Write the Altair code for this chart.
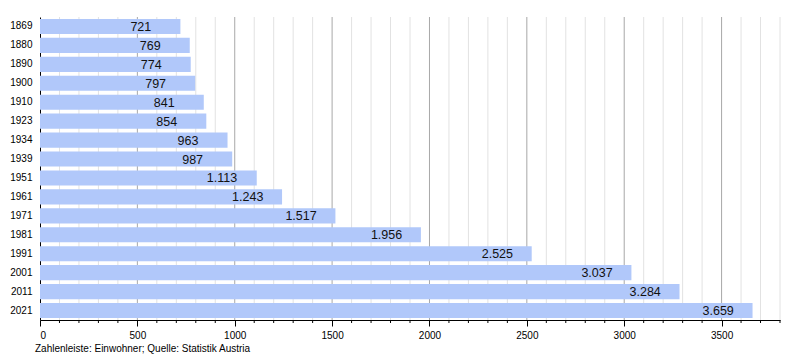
import altair as alt
import pandas as pd

years = ["1869", "1880", "1890", "1900", "1910", "1923", "1934", "1939",
         "1951", "1961", "1971", "1981", "1991", "2001", "2011", "2021"]
population = [721, 769, 774, 797, 841, 854, 963, 987,
              1113, 1243, 1517, 1956, 2525, 3037, 3284, 3659]
labels = ["721", "769", "774", "797", "841", "854", "963", "987",
          "1.113", "1.243", "1.517", "1.956", "2.525", "3.037", "3.284", "3.659"]
major_ticks = [0, 500, 1000, 1500, 2000, 2500, 3000, 3500]
minor_ticks = [v for v in range(100, 3801, 100) if v % 500 != 0]
footnote = "Zahlenleiste: Einwohner; Quelle: Statistik Austria"

df = pd.DataFrame({"year": years, "pop": population, "label": labels})
major_df = pd.DataFrame({"v": major_ticks})
minor_df = pd.DataFrame({"v": minor_ticks})

W, H = 740, 303
xscale = alt.Scale(domain=[0, 3800], nice=False, zero=True)
yscale = alt.Scale(domain=years, paddingInner=0.2, paddingOuter=0.1)

x_axis = alt.Axis(
    values=major_ticks,
    format="d",
    labelOverlap=False,
    tickSize=6,
    tickColor="black",
    domainColor="black",
    grid=False,
    labelFontSize=10,
    labelColor="black",
    labelFont="Liberation Sans",
    labelPadding=4,
    title=None,
)
y_axis = alt.Axis(
    title=None, ticks=False, domainColor="black", labelFontSize=10,
    labelColor="black", labelFont="Liberation Sans", labelPadding=8, grid=False,
)

minor_grid = alt.Chart(minor_df).mark_rule(color="#e2e2e2", strokeWidth=1).encode(
    x=alt.X("v:Q", scale=xscale), y=alt.value(0), y2=alt.value(H)
)
major_grid = alt.Chart(major_df[major_df.v > 0]).mark_rule(color="#a8a8a8", strokeWidth=1).encode(
    x=alt.X("v:Q", scale=xscale), y=alt.value(0), y2=alt.value(H)
)
minor_tick = alt.Chart(minor_df).mark_rule(color="black", strokeWidth=1).encode(
    x=alt.X("v:Q", scale=xscale), y=alt.value(H), y2=alt.value(H + 3)
)

base = alt.Chart(df)

bars = base.mark_bar(color="#b1c8fa").encode(
    x=alt.X("pop:Q", scale=xscale, axis=x_axis),
    y=alt.Y("year:N", scale=yscale, axis=y_axis, sort=years),
)

text = base.mark_text(align="left", baseline="middle", dx=-50, dy=0.5,
                      fontSize=12.5, font="Liberation Sans", color="#111111").encode(
    x=alt.X("pop:Q", scale=xscale),
    y=alt.Y("year:N", scale=yscale, sort=years),
    text="label:N",
)

note = alt.Chart(pd.DataFrame({"t": [footnote]})).mark_text(
    align="left", baseline="alphabetic", fontSize=10, font="Liberation Sans", color="black"
).encode(x=alt.value(-5), y=alt.value(H + 32), text="t:N")

chart = alt.layer(minor_grid, major_grid, bars, text, minor_tick, note).properties(
    width=W, height=H,
    autosize=alt.AutoSizeParams(type="none"),
    padding={"left": 32, "top": 9, "right": 10, "bottom": 40},
).configure_view(stroke=None).configure_axis(domainWidth=1)

chart.save("out.html", embed_options={"renderer": "svg", "actions": False})
